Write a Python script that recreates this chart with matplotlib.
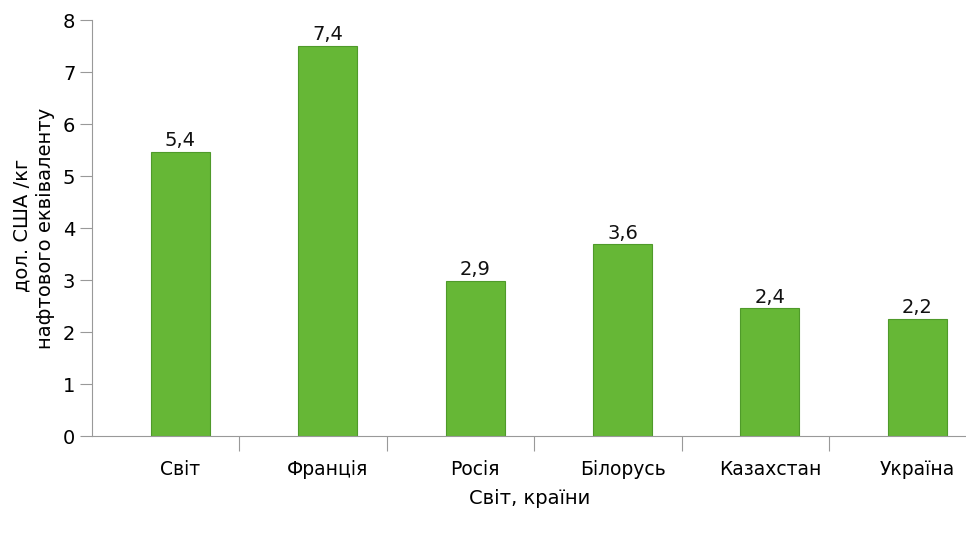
import matplotlib
matplotlib.use("Agg")
import matplotlib.pyplot as plt

categories = ["Світ", "Франція", "Росія", "Білорусь", "Казахстан", "Україна"]
values = [5.47, 7.5, 2.98, 3.69, 2.46, 2.25]
value_labels = ["5,4", "7,4", "2,9", "3,6", "2,4", "2,2"]
y_ticks = [0, 1, 2, 3, 4, 5, 6, 7, 8]

plt.rcParams['font.family'] = ['DejaVu Sans']

fig = plt.figure(figsize=(9.66, 5.34), dpi=100)
ax = fig.add_axes([92/966, (534-436)/534, (966-92)/966, (436-20)/534])

pos = [i + 0.6 for i in range(len(categories))]
bars = ax.bar(pos, values, width=0.4, color="#66b736", edgecolor="#4f9a2a", linewidth=0.8)
for p, v, lab in zip(pos, values, value_labels):
    ax.text(p, v + 0.03, lab, ha="center", va="bottom", fontsize=14, color="#111111")

ax.set_xlim(0, 5.93)
ax.set_ylim(0, 8)
ax.set_yticks(y_ticks)
ax.set_yticklabels([str(t) for t in y_ticks], fontsize=14)
ax.set_xticks(range(1, 6))
ax.set_xticklabels([])
ax.set_xticks(pos, minor=True)
ax.set_xticklabels(categories, minor=True, fontsize=13.5)
ax.tick_params(axis="x", which="minor", length=0, pad=17)
ax.tick_params(axis="x", which="major", length=11, color="#999999", width=0.8)
ax.tick_params(axis="y", length=9, color="#999999", width=0.8, pad=3)

for s in ["top", "right"]:
    ax.spines[s].set_visible(False)
for s in ["left", "bottom"]:
    ax.spines[s].set_color("#999999")
    ax.spines[s].set_linewidth(0.8)

fig.text(22/966, 1 - 225/534, "дол. США /кг", rotation=90, ha="center", va="center", fontsize=14)
fig.text(46/966, 1 - 228/534, "нафтового еквіваленту", rotation=90, ha="center", va="center", fontsize=14)
fig.text(530/966, 1 - 498/534, "Світ, країни", ha="center", va="center", fontsize=14)

fig.savefig("out.png", dpi=100)
